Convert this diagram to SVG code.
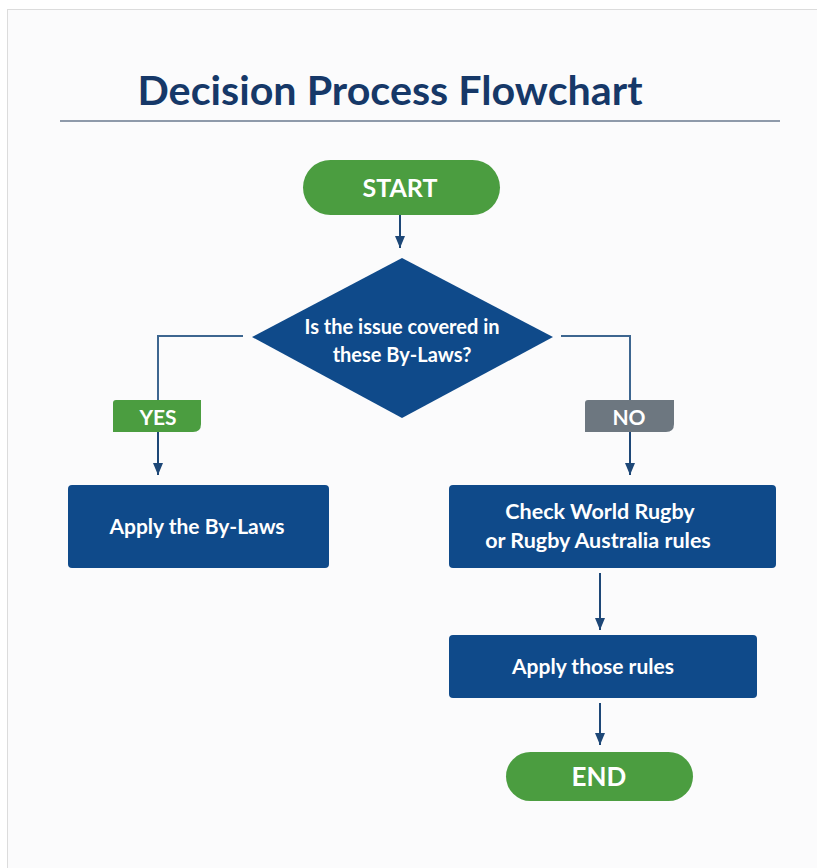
<svg xmlns="http://www.w3.org/2000/svg" width="817" height="868" viewBox="0 0 817 868">
<defs>
<marker id="ah" viewBox="0 0 12 10" refX="12" refY="5" markerWidth="12" markerHeight="10" markerUnits="userSpaceOnUse" orient="auto"><path d="M0,0 L12,5 L0,10 z" fill="#1d4777"/></marker>
<style>
.t{font-family:Lato,"Open Sans","Liberation Sans",sans-serif;font-weight:bold;fill:#fff;text-anchor:middle}
.proc{fill:#0f4a8a}
.term{fill:#4b9d40}
.conn{fill:none;stroke:#3d6690;stroke-width:2}
.conn2{fill:none;stroke:#1d4777;stroke-width:2}
</style>
</defs>
<rect x="0" y="0" width="817" height="868" fill="#ffffff"/>
<rect x="7.5" y="9.5" width="815" height="870" fill="#fbfbfc" stroke="#dcdcdc" stroke-width="1"/>
<g id="title">
<text x="390" y="105" font-family="Lato,'Open Sans','Liberation Sans',sans-serif" font-weight="bold" font-size="40" fill="#163868" text-anchor="middle" textLength="505" lengthAdjust="spacingAndGlyphs">Decision Process Flowchart</text>
<line x1="60" y1="121" x2="780" y2="121" stroke="#8e9aaa" stroke-width="2"/>
</g>
<g id="connectors">
<line class="conn2" x1="400" y1="215" x2="400" y2="248" marker-end="url(#ah)"/>
<polyline class="conn" points="243,336 158,336 158,400"/>
<line class="conn2" x1="158" y1="432" x2="158" y2="475" marker-end="url(#ah)"/>
<polyline class="conn" points="561,336 630,336 630,400"/>
<line class="conn2" x1="630" y1="432" x2="630" y2="475" marker-end="url(#ah)"/>
<line class="conn2" x1="600" y1="573" x2="600" y2="630" marker-end="url(#ah)"/>
<line class="conn2" x1="600" y1="703" x2="600" y2="745" marker-end="url(#ah)"/>
</g>
<g id="start">
<rect class="term" x="303" y="160" width="197" height="55" rx="27.5"/>
<text class="t" x="400" y="197" font-size="25">START</text>
</g>
<g id="decision">
<polygon class="proc" points="402,258 553,337 402,418 252,337"/>
<text class="t" x="402" y="334" font-size="20">Is the issue covered in</text>
<text class="t" x="402" y="362" font-size="20">these By-Laws?</text>
</g>
<g id="yes">
<path d="M116,400 H201 V424 Q201,432 193,432 H113 V403 Q113,400 116,400 Z" fill="#4b9d40"/>
<text class="t" x="158" y="425" font-size="21">YES</text>
</g>
<g id="no">
<path d="M588,400 H674 V424 Q674,432 666,432 H585 V403 Q585,400 588,400 Z" fill="#6d7780"/>
<text class="t" x="629" y="425" font-size="21">NO</text>
</g>
<g id="apply-bylaws">
<rect class="proc" x="68" y="485" width="261" height="83" rx="4"/>
<text class="t" x="197" y="534" font-size="21">Apply the By-Laws</text>
</g>
<g id="check-rules">
<rect class="proc" x="449" y="485" width="327" height="83" rx="4"/>
<text class="t" x="600" y="519" font-size="21.5">Check World Rugby</text>
<text class="t" x="598" y="548" font-size="21.5">or Rugby Australia rules</text>
</g>
<g id="apply-rules">
<rect class="proc" x="449" y="635" width="308" height="63" rx="4"/>
<text class="t" x="593" y="674" font-size="21">Apply those rules</text>
</g>
<g id="end">
<rect class="term" x="506" y="752" width="187" height="49" rx="24.5"/>
<text class="t" x="599" y="786" font-size="26">END</text>
</g>
</svg>
